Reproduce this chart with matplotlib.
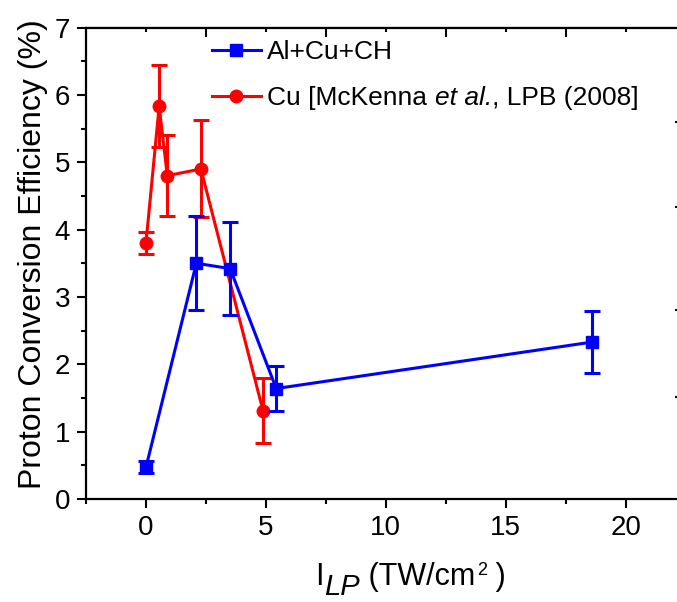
import matplotlib
matplotlib.use("Agg")
import matplotlib.pyplot as plt
from matplotlib.lines import Line2D
from matplotlib.ticker import FixedLocator, NullFormatter

plt.rcParams["font.family"] = ["Liberation Sans", "DejaVu Sans"]

# Al+Cu+CH targets
x_alcu = [0.0, 2.1, 3.51, 5.43, 18.6]
y_alcu = [0.47, 3.5, 3.42, 1.64, 2.33]
e_alcu = [0.09, 0.7, 0.69, 0.33, 0.46]

# Cu targets, McKenna et al., LPB (2008)
x_cu = [0.0, 0.55, 0.89, 2.29, 4.88]
y_cu = [3.8, 5.83, 4.8, 4.9, 1.31]
e_cu = [0.16, 0.61, 0.6, 0.72, 0.48]

label_alcu = "Al+Cu+CH"
label_cu_parts = ["Cu [McKenna", "et al.", ", LPB (2008]"]

x_ticks = [0, 5, 10, 15, 20]
y_ticks = [0, 1, 2, 3, 4, 5, 6, 7]

BLUE = "#0000ff"
RED = "#ff0000"
W, H = 677, 602

fig = plt.figure(figsize=(W / 100, H / 100), dpi=100)
ax = fig.add_axes([86 / W, 103 / H, (685.7 - 86) / W, (499 - 27.5) / H])

ax.errorbar(x_cu, y_cu, yerr=e_cu, color=RED, marker="o", ms=9,
            lw=2.2, elinewidth=2.2, capsize=6, capthick=2.2, zorder=3)
ax.errorbar(x_alcu, y_alcu, yerr=e_alcu, color=BLUE, marker="s", ms=8,
            lw=2.2, elinewidth=2.2, capsize=6, capthick=2.2, zorder=4)

ax.set_xlim(-2.5, 22.5)
ax.set_ylim(0, 7)
ax.set_xticks(x_ticks)
ax.set_yticks(y_ticks)
ax.xaxis.set_minor_locator(FixedLocator([-2.5, 2.5, 7.5, 12.5, 17.5, 22.5]))
ax.yaxis.set_minor_locator(FixedLocator([0.5, 1.5, 2.5, 3.5, 4.5, 5.5, 6.5]))
ax.tick_params(which="major", direction="out", length=6.5, width=1.5,
               labelsize=20, top=False, right=False, pad=5)
ax.tick_params(which="minor", direction="out", length=3.5, width=1.5,
               top=False, right=False)
for s in ax.spines.values():
    s.set_linewidth(1.6)

# top axis ticks
top = ax.secondary_xaxis("top")
top.set_xticks([2.5, 7.5, 12.5, 17.5])
top.xaxis.set_minor_locator(FixedLocator([0, 5, 10, 15, 20]))
top.xaxis.set_major_formatter(NullFormatter())
top.tick_params(which="major", direction="in", length=7, width=1.5)
top.tick_params(which="minor", direction="in", length=3.5, width=1.5)

# right axis ticks
right = ax.secondary_yaxis("right")
right.set_yticks([1.52, 2.8, 4.34, 5.6])
right.yaxis.set_major_formatter(NullFormatter())
right.tick_params(which="major", direction="in", length=8, width=1.5)
right.tick_params(which="minor", length=0)

ax.set_ylabel("Proton Conversion Efficiency (%)", fontsize=23, labelpad=5)
ax.yaxis.label.set_y(0.52)

handles = [
    Line2D([], [], color=BLUE, marker="s", ms=8, lw=2.2),
    Line2D([], [], color=RED, marker="o", ms=9, lw=2.2),
]
LEG_FS = 19
leg = ax.legend(handles, [label_alcu, label_cu_parts[0]], loc="upper left",
                bbox_to_anchor=(212 / W, 1 - 40 / H),
                bbox_transform=fig.transFigure, frameon=False, fontsize=LEG_FS,
                borderpad=0, borderaxespad=0, handlelength=1.85,
                handletextpad=0.25, labelspacing=0.85)

fig.canvas.draw()
renderer = fig.canvas.get_renderer()


def put(x, y, s, va="baseline", **kw):
    """Place text at pixel (x, y), return its right edge in pixels."""
    t = fig.text(x / W, y / H, s, ha="left", va=va, **kw)
    return t.get_window_extent(renderer).x1


def text_width(s, size):
    t = fig.text(0, 0, s, fontsize=size)
    w = t.get_window_extent(renderer).width
    t.remove()
    return w


# rest of the second legend entry: italic "et al." and the reference
lt_box = leg.get_texts()[1].get_window_extent(renderer)
space = text_width("a a", LEG_FS) - text_width("aa", LEG_FS)
xe = put(lt_box.x1 + space, lt_box.y0, label_cu_parts[1], va="bottom",
         fontsize=LEG_FS, fontstyle="italic")
put(xe, lt_box.y0, label_cu_parts[2], va="bottom", fontsize=LEG_FS)

# x axis label: I with italic LP subscript, then units with a superscript 2
base = H - 585
xe = put(315, base, "I", fontsize=22)
xe = put(xe + 1, base - 10, "LP", fontsize=21, fontstyle="italic")
xe = put(xe, base, " (TW/cm", fontsize=22)
xe = put(xe + 2, base + 10, "2", fontsize=13)
put(xe, base, " )", fontsize=22)

fig.savefig("out.png", dpi=100)
